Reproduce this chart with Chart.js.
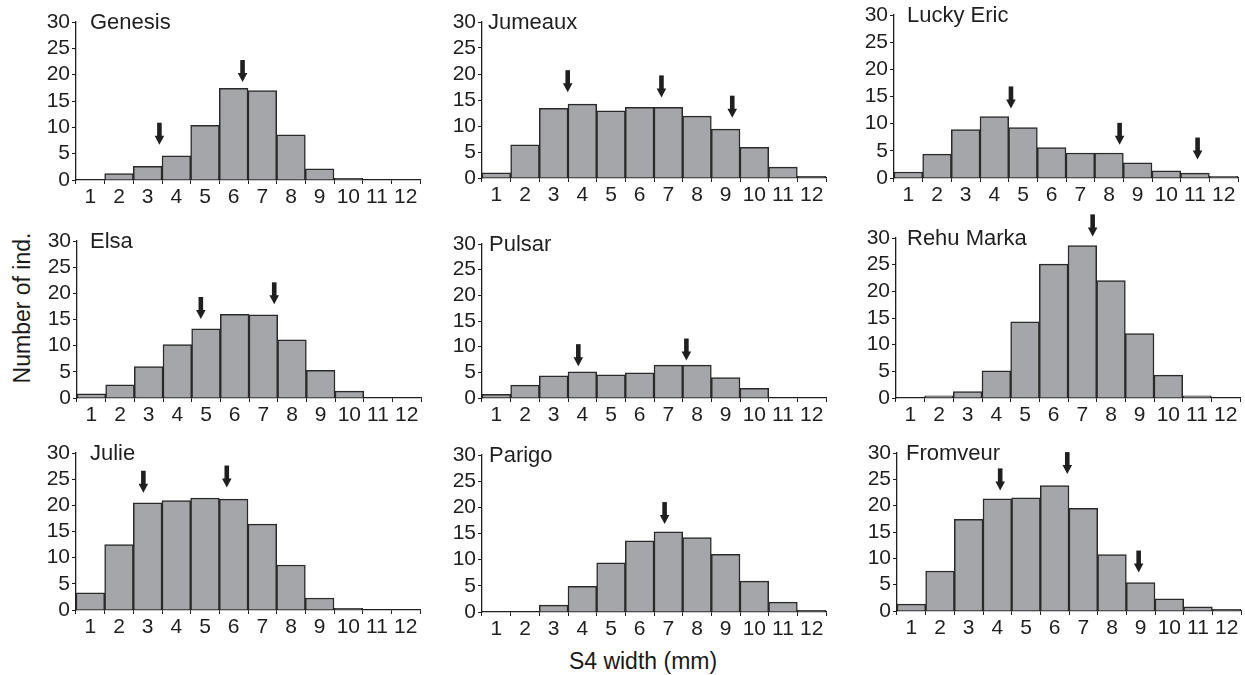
<!DOCTYPE html>
<html>
<head>
<meta charset="utf-8">
<script src="https://cdn.jsdelivr.net/npm/chart.js@4.4.1/dist/chart.umd.min.js"></script>
<style>
  html, body { margin: 0; padding: 0; background: #fff; }
  #wrap { position: relative; width: 1245px; height: 675px; overflow: hidden; font-family: 'Liberation Sans', Arial, sans-serif; color: #1a1a1a; }
  #wrap canvas { position: absolute; }
  .axis-label { position: absolute; font-size: 23px; white-space: nowrap; }
  #ylab { left: 22px; top: 308px; transform: translate(-50%, -50%) rotate(-90deg); }
  #xlab { left: 643px; top: 661px; transform: translate(-50%, -50%); }
</style>
</head>
<body>
<div id="wrap">
  <div class="axis-label" id="ylab">Number of ind.</div>
  <div class="axis-label" id="xlab">S4 width (mm)</div>
</div>
<script>
// S4 width classes (mm)
const bins = ['1', '2', '3', '4', '5', '6', '7', '8', '9', '10', '11', '12']
const yTicks = [0, 5, 10, 15, 20, 25, 30]

// number of individuals per width class
const genesis   = [0, 1.2, 2.6, 4.6, 10.4, 17.4, 17.0, 8.6, 2.1, 0.3, 0, 0]
const jumeaux   = [1.0, 6.4, 13.4, 14.2, 12.9, 13.6, 13.6, 11.9, 9.4, 5.9, 2.1, 0.3]
const luckyEric = [1.1, 4.4, 8.9, 11.3, 9.3, 5.6, 4.6, 4.6, 2.8, 1.3, 0.9, 0.3]
const elsa      = [0.8, 2.5, 6.0, 10.2, 13.2, 16.0, 15.9, 11.1, 5.3, 1.3, 0, 0]
const pulsar    = [0.7, 2.5, 4.3, 5.1, 4.5, 4.9, 6.4, 6.4, 4.0, 1.9, 0, 0]
const rehuMarka = [0, 0.4, 1.2, 5.1, 14.3, 25.1, 28.6, 22.0, 12.1, 4.3, 0.4, 0]
const julie     = [3.3, 12.5, 20.5, 20.9, 21.4, 21.2, 16.4, 8.6, 2.3, 0.3, 0, 0]
const parigo    = [0, 0, 1.3, 4.9, 9.4, 13.6, 15.3, 14.2, 11.0, 5.9, 1.9, 0.3]
const fromveur  = [1.3, 7.6, 17.4, 21.3, 21.5, 23.8, 19.5, 10.7, 5.4, 2.3, 0.8, 0.3]

// cohort means marked by arrows: [width class, count at arrow tip]
const genesisArrows   = [[3.41, 6.7], [6.31, 18.6]]
const jumeauxArrows   = [[3.49, 16.5], [6.76, 15.5], [9.23, 11.6]]
const luckyEricArrows = [[4.58, 12.8], [8.37, 6.1], [11.09, 3.4]]
const elsaArrows      = [[4.82, 15.1], [7.38, 17.9]]
const pulsarArrows    = [[3.86, 6.2], [7.63, 7.3]]
const rehuMarkaArrows = [[7.36, 30.3]]
const julieArrows     = [[2.85, 22.4], [5.76, 23.4]]
const parigoArrows    = [[6.87, 16.8]]
const fromveurArrows  = [[4.10, 22.9], [6.44, 26.0], [8.93, 7.3]]

const panelNames  = ['Genesis', 'Jumeaux', 'Lucky Eric', 'Elsa', 'Pulsar', 'Rehu Marka', 'Julie', 'Parigo', 'Fromveur']
const panelCounts = [genesis, jumeaux, luckyEric, elsa, pulsar, rehuMarka, julie, parigo, fromveur]
const panelArrows = [genesisArrows, jumeauxArrows, luckyEricArrows, elsaArrows, pulsarArrows,
  rehuMarkaArrows, julieArrows, parigoArrows, fromveurArrows]

// plot area edges of each panel in page pixels
const panelLeft   = [76, 482, 894, 77, 482, 896, 76, 482, 897]
const panelTop    = [22, 22, 15, 241, 244, 238, 453, 455, 453]
const panelBottom = [180, 178, 178, 398, 398, 398, 610, 612, 611]
const plotWidth = 344
const titleIndent = [14, 6, 13, 13, 7, 11, 14, 7, 9]

const PAD_LEFT = 60
const PAD_TOP = 32
const PAD_RIGHT = 8
const PAD_BOTTOM = 32
const INK = '#1f1f1f'
const FONT = "'Liberation Sans', Arial, sans-serif"

const panelDecor = {
  id: 'panelDecor',
  afterDatasetsDraw(chart, args, opts) {
    const { ctx, chartArea, scales } = chart
    ctx.save()
    ctx.fillStyle = INK
    for (const [cls, tip] of opts.arrows) {
      const x = scales.x.getPixelForValue(cls - 1)
      const y = scales.y.getPixelForValue(tip)
      ctx.fillRect(x - 2.3, y - 22, 4.6, 14)
      ctx.beginPath()
      ctx.moveTo(x - 4.8, y - 9)
      ctx.lineTo(x + 4.8, y - 9)
      ctx.lineTo(x, y)
      ctx.closePath()
      ctx.fill()
    }
    ctx.font = '22px ' + FONT
    ctx.textBaseline = 'middle'
    ctx.textAlign = 'left'
    ctx.fillText(opts.title, chartArea.left + opts.indent, chartArea.top + 1)
    ctx.restore()
  }
}

const wrap = document.getElementById('wrap')

panelNames.forEach((name, i) => {
  const plotHeight = panelBottom[i] - panelTop[i]
  const w = PAD_LEFT + plotWidth + PAD_RIGHT
  const h = PAD_TOP + plotHeight + PAD_BOTTOM

  const canvas = document.createElement('canvas')
  canvas.width = w
  canvas.height = h
  canvas.style.left = (panelLeft[i] - PAD_LEFT) + 'px'
  canvas.style.top = (panelTop[i] - PAD_TOP) + 'px'
  canvas.style.width = w + 'px'
  canvas.style.height = h + 'px'
  wrap.appendChild(canvas)

  new Chart(canvas.getContext('2d'), {
    type: 'bar',
    data: {
      labels: bins,
      datasets: [{
        data: panelCounts[i],
        backgroundColor: '#a4a6a9',
        borderColor: '#2a2a2a',
        borderWidth: 1.5,
        barPercentage: 1,
        categoryPercentage: 1
      }]
    },
    options: {
      responsive: false,
      animation: false,
      devicePixelRatio: 1,
      layout: { padding: { left: 0, top: PAD_TOP, right: PAD_RIGHT, bottom: 0 } },
      plugins: {
        legend: { display: false },
        tooltip: { enabled: false },
        panelDecor: { title: name, arrows: panelArrows[i], indent: titleIndent[i] }
      },
      scales: {
        x: {
          type: 'category',
          grid: { offset: true, drawOnChartArea: false, drawTicks: true, tickLength: 4, color: INK, lineWidth: 1 },
          border: { display: true, color: INK, width: 1.3 },
          ticks: { color: INK, font: { family: FONT, size: 21 }, padding: 1, maxRotation: 0, autoSkip: false },
          afterFit(scale) { scale.height = PAD_BOTTOM }
        },
        y: {
          min: 0,
          max: 30,
          afterBuildTicks(scale) { scale.ticks = yTicks.map(v => ({ value: v })) },
          grid: { drawOnChartArea: false, drawTicks: true, tickLength: 4, color: INK, lineWidth: 1 },
          border: { display: true, color: INK, width: 1.3 },
          ticks: { color: INK, font: { family: FONT, size: 21 }, padding: 2, autoSkip: false },
          afterFit(scale) { scale.width = PAD_LEFT }
        }
      }
    },
    plugins: [panelDecor]
  })
})
</script>
</body>
</html>
